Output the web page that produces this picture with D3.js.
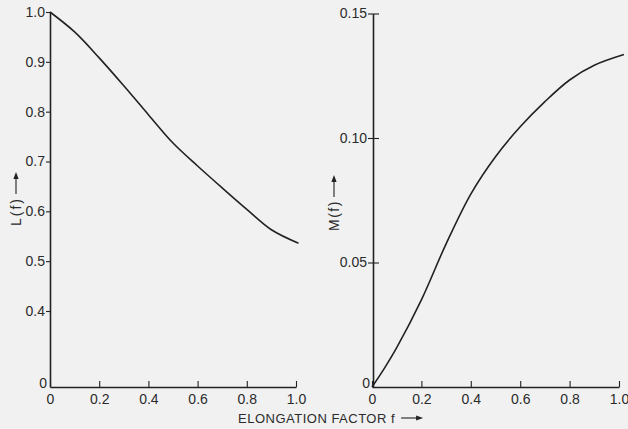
<!DOCTYPE html>
<html>
<head>
<meta charset="utf-8">
<script src="https://cdn.jsdelivr.net/npm/d3@7"></script>
<style>
  html, body { margin: 0; padding: 0; background: #f1f1f1; }
  svg { display: block; }
  text { font-family: "Liberation Sans", Arial, sans-serif; fill: #2b2b2b; }
</style>
</head>
<body>
<svg id="chart" width="628" height="429"></svg>
<script>
// ---- data ----
const fValuesL = [0, 0.1, 0.2, 0.3, 0.4, 0.5, 0.6, 0.7, 0.8, 0.9, 1.01];
const lValues  = [1.0, 0.960, 0.908, 0.852, 0.794, 0.737, 0.691, 0.647, 0.604, 0.563, 0.536];

const fValuesM = [0, 0.05, 0.1, 0.2, 0.3, 0.4, 0.5, 0.6, 0.7, 0.8, 0.9, 1.02];
const mValues  = [0, 0.0075, 0.0158, 0.0350, 0.0575, 0.0775, 0.0925, 0.1045, 0.1146, 0.1233, 0.1292, 0.1335];

const xTicks  = [0, 0.2, 0.4, 0.6, 0.8, 1.0];
const lTicks  = [0, 0.4, 0.5, 0.6, 0.7, 0.8, 0.9, 1.0];
const mTicks  = [0, 0.05, 0.10, 0.15];

const xTitle = "ELONGATION FACTOR f";
const lTitle = "L(f)";
const mTitle = "M(f)";

// ---- drawing ----
const svg = d3.select("#chart");
const ink = "#222";

const xL = d3.scaleLinear().domain([0, 1]).range([50, 296]);
// broken axis: 0 sits at the baseline, 0.4..1.0 linear above it
const yL = d3.scaleLinear().domain([0, 0.4, 1.0]).range([387, 311, 12]);

const xM = d3.scaleLinear().domain([0, 1]).range([372, 619]);
const yM = d3.scaleLinear().domain([0, 0.15]).range([387, 13.5]);

function styleAxis(g) {
  g.select(".domain").attr("stroke", ink).attr("stroke-width", 1.6);
  g.selectAll(".tick line").attr("stroke", ink).attr("stroke-width", 1.1);
  g.selectAll(".tick text").attr("font-size", 14).attr("fill", "#2b2b2b")
    .attr("font-family", "'Liberation Sans', Arial, sans-serif");
}

// left panel
svg.append("g").attr("transform", "translate(0,387)")
  .call(d3.axisBottom(xL).tickValues(xTicks).tickSizeInner(-6).tickSizeOuter(0).tickPadding(7)
    .tickFormat(d => d === 0 ? "0" : d3.format(".1f")(d)))
  .call(styleAxis);

svg.append("g").attr("transform", "translate(50,0)")
  .call(d3.axisLeft(yL).tickValues(lTicks).tickSizeInner(4).tickSizeOuter(0).tickPadding(1)
    .tickFormat(d => d === 0 ? "0" : d3.format(".1f")(d)))
  .call(styleAxis)
  .call(g => g.selectAll(".tick").filter(d => d === 0).select("line").remove())
  .call(g => g.selectAll(".tick").filter(d => d === 0).select("text").attr("dy", "0.05em").attr("x", -3));

// right panel
svg.append("g").attr("transform", "translate(0,387)")
  .call(d3.axisBottom(xM).tickValues(xTicks).tickSizeInner(-6).tickSizeOuter(0).tickPadding(7)
    .tickFormat(d => d === 0 ? "0" : d3.format(".1f")(d)))
  .call(styleAxis);

svg.append("g").attr("transform", "translate(373,0)")
  .call(d3.axisLeft(yM).tickValues(mTicks).tickSizeInner(5).tickSizeOuter(0).tickPadding(1)
    .tickFormat(d => d === 0 ? "0" : d3.format(".2f")(d)))
  .call(styleAxis)
  .call(g => g.selectAll(".tick").filter(d => d !== 0).select("line").attr("x2", -5).attr("x1", 6))
  .call(g => g.selectAll(".tick").filter(d => d === 0).select("line").remove())
  .call(g => g.selectAll(".tick").filter(d => d === 0).select("text").attr("dy", "0.05em").attr("x", -3));

// curves
const lineL = d3.line().x((d, i) => xL(fValuesL[i])).y(d => yL(d)).curve(d3.curveCatmullRom.alpha(0.5));
const lineM = d3.line().x((d, i) => xM(fValuesM[i])).y(d => yM(d)).curve(d3.curveCatmullRom.alpha(0.5));

svg.append("path").datum(lValues).attr("d", lineL)
  .attr("fill", "none").attr("stroke", ink).attr("stroke-width", 1.6);
svg.append("path").datum(mValues).attr("d", lineM)
  .attr("fill", "none").attr("stroke", ink).attr("stroke-width", 1.6);

// titles with arrows
function arrow(g, x0, len) {
  g.append("line").attr("x1", x0).attr("x2", x0 + len - 5).attr("y1", 0).attr("y2", 0)
    .attr("stroke", ink).attr("stroke-width", 1.1);
  g.append("path").attr("d", `M${x0 + len},0 L${x0 + len - 7},-2.6 L${x0 + len - 7},2.6 Z`).attr("fill", ink);
}

const xt = svg.append("g").attr("transform", "translate(238,418)");
const xtText = xt.append("text").attr("x", 0).attr("y", 0).attr("dy", "0.35em")
  .attr("font-size", 13).attr("letter-spacing", 0.5).text(xTitle);
arrow(xt, xtText.node().getComputedTextLength() + 6, 22);

const lt = svg.append("g").attr("transform", "translate(16,226) rotate(-90)");
const ltText = lt.append("text").attr("dy", "0.35em").attr("font-size", 14).attr("letter-spacing", 2).text(lTitle);
arrow(lt, ltText.node().getComputedTextLength() + 3, 22);

const mt = svg.append("g").attr("transform", "translate(334,231) rotate(-90)");
const mtText = mt.append("text").attr("dy", "0.35em").attr("font-size", 14).attr("letter-spacing", 1.5).text(mTitle);
arrow(mt, mtText.node().getComputedTextLength() + 3, 22);
</script>
</body>
</html>
